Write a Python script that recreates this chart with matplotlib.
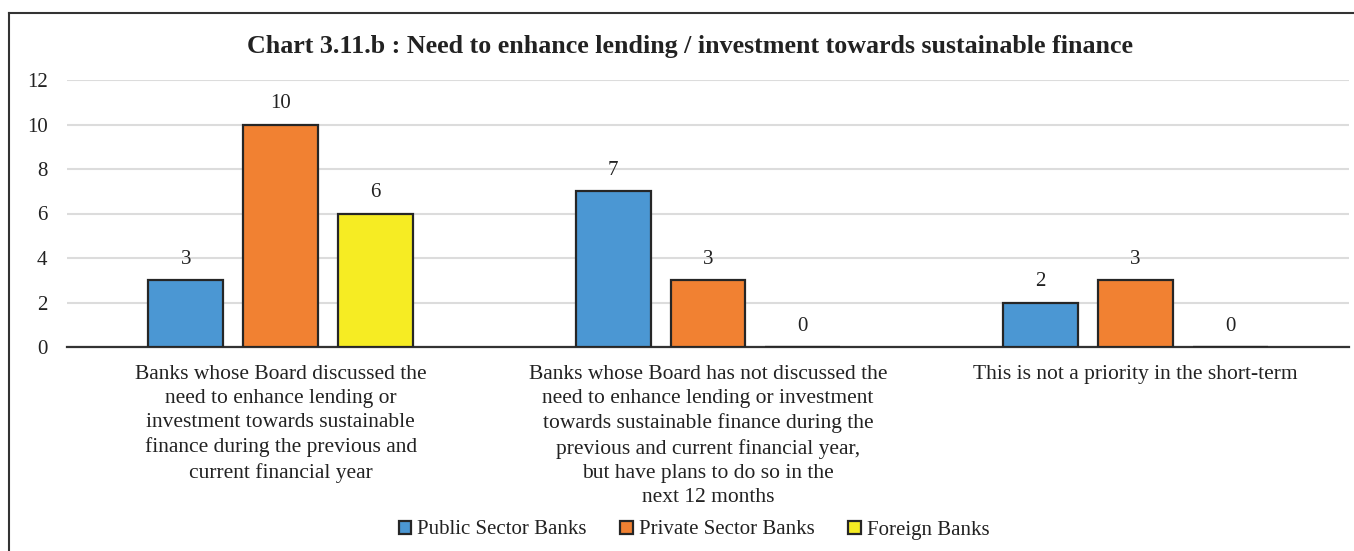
import matplotlib
matplotlib.use("Agg")
import matplotlib.pyplot as plt
import numpy as np
from matplotlib.lines import Line2D

categories = [
    "Banks whose Board discussed the\nneed to enhance lending or\ninvestment towards sustainable\nfinance during the previous and\ncurrent financial year",
    "Banks whose Board has not discussed the\nneed to enhance lending or investment\ntowards sustainable finance during the\nprevious and current financial year,\nbut have plans to do so in the\nnext 12 months",
    "This is not a priority in the short-term",
]
series = ["Public Sector Banks", "Private Sector Banks", "Foreign Banks"]
public_banks = [3, 7, 2]
private_banks = [10, 3, 3]
foreign_banks = [6, 0, 0]
colors = ["#4b97d3", "#f18132", "#f6ec23"]

plt.rcParams["font.family"] = ["Liberation Serif", "DejaVu Serif"]

fig = plt.figure(figsize=(13.54, 5.51), dpi=100)
ax = fig.add_axes([67 / 1354, 1 - 347 / 551, (1349 - 67) / 1354, (347 - 80) / 551])

x = np.arange(len(categories))
width = 0.175
step = 0.222
for i, (name, vals) in enumerate(zip(series, [public_banks, private_banks, foreign_banks])):
    pos = x + (i - 1) * step
    ax.bar(pos, vals, width, color=colors[i], edgecolor="#262626", linewidth=1.6,
           label=name, zorder=3)
    for p, v in zip(pos, vals):
        ax.text(p, v + 0.5, str(v), ha="center", va="bottom", fontsize=15, color="#222222")

ax.set_xlim(-0.5, 2.5)
ax.set_ylim(0, 12)
ax.set_yticks(range(0, 13, 2))
ax.yaxis.grid(True, color="#dcdcdc", linewidth=1.5, zorder=0)
ax.set_axisbelow(True)
for s in ["top", "right", "left"]:
    ax.spines[s].set_visible(False)
ax.spines["bottom"].set_color("#333333")
ax.spines["bottom"].set_linewidth(1.6)
ax.tick_params(axis="y", length=0, pad=14, labelsize=15, labelcolor="#222222")
ax.tick_params(axis="x", length=0, pad=13, labelsize=15.5, labelcolor="#222222")
ax.set_xticks(x)
ax.set_xticklabels(categories, linespacing=1.36, va="top")

fig.text(690 / 1354, 1 - 47 / 551, "Chart 3.11.b : Need to enhance lending / investment towards sustainable finance",
         ha="center", va="center", fontsize=18.7, fontweight="bold", color="#222222")

ax.legend(loc="center", bbox_to_anchor=(694 / 1354, 1 - 530 / 551), bbox_transform=fig.transFigure,
          ncol=3, frameon=False, fontsize=15, handlelength=0.6, handleheight=0.6,
          handletextpad=0.3, columnspacing=1.6, labelcolor="#222222")

# frame lines on top and left edge
fig.add_artist(Line2D([9 / 1354, 1], [1 - 13 / 551, 1 - 13 / 551], transform=fig.transFigure,
                      color="#333333", linewidth=1.5))
fig.add_artist(Line2D([9 / 1354, 9 / 1354], [0, 1 - 13 / 551], transform=fig.transFigure,
                      color="#333333", linewidth=1.5))

fig.savefig("out.png", dpi=100)
